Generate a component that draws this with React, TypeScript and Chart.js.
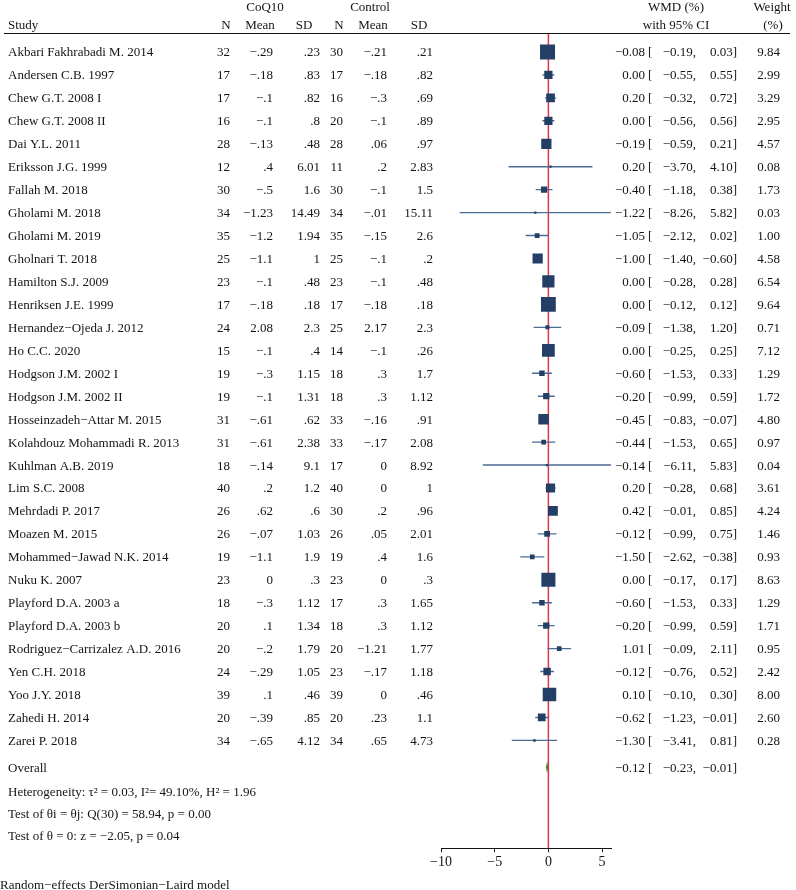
import React, { useEffect, useRef } from "react";
import { Chart, registerables } from "chart.js";
Chart.register(...registerables);

const STUDIES = [
  "Akbari Fakhrabadi M. 2014",
  "Andersen C.B. 1997",
  "Chew G.T. 2008 I",
  "Chew G.T. 2008 II",
  "Dai Y.L. 2011",
  "Eriksson J.G. 1999",
  "Fallah M. 2018",
  "Gholami M. 2018",
  "Gholami M. 2019",
  "Gholnari T. 2018",
  "Hamilton S.J. 2009",
  "Henriksen J.E. 1999",
  "Hernandez\u2212Ojeda J. 2012",
  "Ho C.C. 2020",
  "Hodgson J.M. 2002 I",
  "Hodgson J.M. 2002 II",
  "Hosseinzadeh\u2212Attar M. 2015",
  "Kolahdouz Mohammadi R. 2013",
  "Kuhlman A.B. 2019",
  "Lim S.C. 2008",
  "Mehrdadi P. 2017",
  "Moazen M. 2015",
  "Mohammed\u2212Jawad N.K. 2014",
  "Nuku K. 2007",
  "Playford D.A. 2003 a",
  "Playford D.A. 2003 b",
  "Rodriguez\u2212Carrizalez A.D. 2016",
  "Yen C.H. 2018",
  "Yoo J.Y. 2018",
  "Zahedi H. 2014",
  "Zarei P. 2018",
];
const N_COQ = [32, 17, 17, 16, 28, 12, 30, 34, 35, 25, 23, 17, 24, 15, 19, 19, 31, 31, 18, 40, 26, 26, 19, 23, 18, 20, 20, 24, 39, 20, 34];
const MEAN_COQ = [-0.29, -0.18, -0.1, -0.1, -0.13, 0.4, -0.5, -1.23, -1.2, -1.1, -0.1, -0.18, 2.08, -0.1, -0.3, -0.1, -0.61, -0.61, -0.14, 0.2, 0.62, -0.07, -1.1, 0, -0.3, 0.1, -0.2, -0.29, 0.1, -0.39, -0.65];
const SD_COQ = [0.23, 0.83, 0.82, 0.8, 0.48, 6.01, 1.6, 14.49, 1.94, 1, 0.48, 0.18, 2.3, 0.4, 1.15, 1.31, 0.62, 2.38, 9.1, 1.2, 0.6, 1.03, 1.9, 0.3, 1.12, 1.34, 1.79, 1.05, 0.46, 0.85, 4.12];
const N_CTRL = [30, 17, 16, 20, 28, 11, 30, 34, 35, 25, 23, 17, 25, 14, 18, 18, 33, 33, 17, 40, 30, 26, 19, 23, 17, 18, 20, 23, 39, 20, 34];
const MEAN_CTRL = [-0.21, -0.18, -0.3, -0.1, 0.06, 0.2, -0.1, -0.01, -0.15, -0.1, -0.1, -0.18, 2.17, -0.1, 0.3, 0.3, -0.16, -0.17, 0, 0, 0.2, 0.05, 0.4, 0, 0.3, 0.3, -1.21, -0.17, 0, 0.23, 0.65];
const SD_CTRL = [0.21, 0.82, 0.69, 0.89, 0.97, 2.83, 1.5, 15.11, 2.6, 0.2, 0.48, 0.18, 2.3, 0.26, 1.7, 1.12, 0.91, 2.08, 8.92, 1, 0.96, 2.01, 1.6, 0.3, 1.65, 1.12, 1.77, 1.18, 0.46, 1.1, 4.73];
const WMD = [-0.08, 0.0, 0.2, 0.0, -0.19, 0.2, -0.4, -1.22, -1.05, -1.0, 0.0, 0.0, -0.09, 0.0, -0.6, -0.2, -0.45, -0.44, -0.14, 0.2, 0.42, -0.12, -1.5, 0.0, -0.6, -0.2, 1.01, -0.12, 0.1, -0.62, -1.3];
const CI_LOW = [-0.19, -0.55, -0.32, -0.56, -0.59, -3.7, -1.18, -8.26, -2.12, -1.4, -0.28, -0.12, -1.38, -0.25, -1.53, -0.99, -0.83, -1.53, -6.11, -0.28, -0.01, -0.99, -2.62, -0.17, -1.53, -0.99, -0.09, -0.76, -0.1, -1.23, -3.41];
const CI_HIGH = [0.03, 0.55, 0.72, 0.56, 0.21, 4.1, 0.38, 5.82, 0.02, -0.6, 0.28, 0.12, 1.2, 0.25, 0.33, 0.59, -0.07, 0.65, 5.83, 0.68, 0.85, 0.75, -0.38, 0.17, 0.33, 0.59, 2.11, 0.52, 0.3, -0.01, 0.81];
const WEIGHT = [9.84, 2.99, 3.29, 2.95, 4.57, 0.08, 1.73, 0.03, 1.0, 4.58, 6.54, 9.64, 0.71, 7.12, 1.29, 1.72, 4.8, 0.97, 0.04, 3.61, 4.24, 1.46, 0.93, 8.63, 1.29, 1.71, 0.95, 2.42, 8.0, 2.6, 0.28];

const OVERALL_LABEL = "Overall";
const OVERALL_EST = -0.12;
const OVERALL_LOW = -0.23;
const OVERALL_HIGH = -0.01;

const X_TICKS = [-10, -5, 0, 5];

const FOOT_LINES = [
  "Heterogeneity: \u03c4\u00b2 = 0.03, I\u00b2= 49.10%, H\u00b2 = 1.96",
  "Test of \u03b8i = \u03b8j: Q(30) = 58.94, p = 0.00",
  "Test of \u03b8 = 0: z = \u22122.05, p = 0.04",
];
const MODEL_NOTE = "Random\u2212effects DerSimonian\u2212Laird model";

// layout (pixels) -----------------------------------------------------------
const W = 796;
const H = 890;
const ROW0_PX = 52;
const ROW_STEP = 22.97;
const AREA_TOP = 34;
const AREA_BOTTOM = 849;
const OVERALL_PX = 768;
const FOOT_PX = [791, 813, 835];
const NOTE_PX = 884;

const NAVY = "#233f66";
const CI_COLOR = "#4d6c94";
const RED = "#dc3649";
const OLIVE = "#5b7a32";
const INK = "#141414";
const FONT = '13px "Liberation Serif", "Times New Roman", serif';

const MINUS = "\u2212";
function fmtG(v: number): string {
  if (v === 0) return "0";
  let s = String(Math.abs(v));
  if (s.startsWith("0.")) s = s.slice(1);
  return (v < 0 ? MINUS : "") + s;
}
function fmt2(v: number): string {
  return (v < 0 ? MINUS : "") + Math.abs(v).toFixed(2);
}

const yVal = (px: number) => (px - ROW0_PX) / ROW_STEP;

export default function App() {
  const ref = useRef<HTMLCanvasElement | null>(null);

  useEffect(() => {
    const canvas = ref.current;
    if (!canvas) return;

    const forestPlugin = {
      id: "forest",
      beforeDatasetsDraw(chart: any) {
        const { ctx, chartArea, scales } = chart;
        const x0 = scales.x.getPixelForValue(0);
        ctx.save();
        ctx.strokeStyle = RED;
        ctx.lineWidth = 1.5;
        ctx.beginPath();
        ctx.moveTo(x0, chartArea.top);
        ctx.lineTo(x0, chartArea.bottom);
        ctx.stroke();
        // overall diamond
        const yc = scales.y.getPixelForValue(yVal(OVERALL_PX));
        const xl = scales.x.getPixelForValue(OVERALL_LOW);
        const xe = scales.x.getPixelForValue(OVERALL_EST);
        const xh = scales.x.getPixelForValue(OVERALL_HIGH);
        ctx.fillStyle = OLIVE;
        ctx.beginPath();
        ctx.moveTo(xl, yc);
        ctx.lineTo(xe, yc - 6);
        ctx.lineTo(xh, yc);
        ctx.lineTo(xe, yc + 6);
        ctx.closePath();
        ctx.fill();
        ctx.restore();
      },
      afterDraw(chart: any) {
        const { ctx, scales } = chart;
        ctx.save();
        ctx.font = FONT;
        ctx.fillStyle = INK;
        ctx.textBaseline = "alphabetic";
        const txt = (s: string, x: number, yc: number, align: CanvasTextAlign) => {
          ctx.textAlign = align;
          ctx.fillText(s, x, yc + 4.5);
        };
        // headers
        txt("CoQ10", 265, 6, "center");
        txt("Control", 370, 6, "center");
        txt("WMD (%)", 676, 6, "center");
        txt("Weight", 772, 6, "center");
        txt("Study", 8, 24, "left");
        txt("N", 226, 24, "center");
        txt("Mean", 260, 24, "center");
        txt("SD", 304, 24, "center");
        txt("N", 339, 24, "center");
        txt("Mean", 373, 24, "center");
        txt("SD", 419, 24, "center");
        txt("with 95% CI", 676, 24, "center");
        txt("(%)", 773, 24, "center");
        ctx.strokeStyle = INK;
        ctx.lineWidth = 1;
        ctx.beginPath();
        ctx.moveTo(4, 33.5);
        ctx.lineTo(790, 33.5);
        ctx.stroke();

        const ci = (est: number, lo: number, hi: number, yc: number) => {
          txt(fmt2(est), 645, yc, "right");
          txt("[", 648, yc, "left");
          txt(fmt2(lo) + ",", 696, yc, "right");
          txt(fmt2(hi) + "]", 737, yc, "right");
        };

        STUDIES.forEach((name, i) => {
          const yc = scales.y.getPixelForValue(i);
          txt(name, 8, yc, "left");
          txt(String(N_COQ[i]), 230, yc, "right");
          txt(fmtG(MEAN_COQ[i]), 273, yc, "right");
          txt(fmtG(SD_COQ[i]), 320, yc, "right");
          txt(String(N_CTRL[i]), 343, yc, "right");
          txt(fmtG(MEAN_CTRL[i]), 387, yc, "right");
          txt(fmtG(SD_CTRL[i]), 433, yc, "right");
          ci(WMD[i], CI_LOW[i], CI_HIGH[i], yc);
          txt(WEIGHT[i].toFixed(2), 780, yc, "right");
        });
        const yo = scales.y.getPixelForValue(yVal(OVERALL_PX));
        txt(OVERALL_LABEL, 8, yo, "left");
        ci(OVERALL_EST, OVERALL_LOW, OVERALL_HIGH, yo);
        FOOT_LINES.forEach((s, k) => txt(s, 8, FOOT_PX[k], "left"));
        txt(MODEL_NOTE, 0, NOTE_PX, "left");
        ctx.restore();
      },
    };

    const ciSets = STUDIES.map((_, i) => ({
      type: "line" as const,
      data: [
        { x: CI_LOW[i], y: i },
        { x: CI_HIGH[i], y: i },
      ],
      borderColor: CI_COLOR,
      borderWidth: 1.4,
      pointRadius: 0,
      fill: false,
      order: 2,
    }));

    const chart = new Chart(canvas, {
      type: "scatter",
      data: {
        datasets: [
          {
            data: WMD.map((v, i) => ({ x: v, y: i })),
            pointStyle: "rect",
            pointRadius: (c: any) => Math.max(1.6, 10.6 * Math.sqrt(WEIGHT[c.dataIndex] / 9.84)),
            backgroundColor: NAVY,
            borderColor: NAVY,
            borderWidth: 0,
            order: 0,
          } as any,
          ...ciSets,
        ],
      },
      options: {
        animation: false,
        responsive: false,
        devicePixelRatio: 1,
        layout: { padding: { left: 441, right: W - 611, top: AREA_TOP, bottom: 17 } },
        plugins: { legend: { display: false }, tooltip: { enabled: false } },
        scales: {
          x: {
            type: "linear",
            min: X_TICKS[0],
            max: Math.max(...CI_HIGH),
            afterBuildTicks: (s: any) => {
              s.ticks = X_TICKS.map((v) => ({ value: v }));
            },
            ticks: {
              color: INK,
              padding: 2,
              font: { family: '"Liberation Serif"', size: 14 },
              callback: (v: any) => (Number(v) < 0 ? MINUS + Math.abs(Number(v)) : String(v)),
              maxRotation: 0,
              autoSkip: false,
            },
            grid: { drawOnChartArea: false, drawTicks: true, tickLength: 4, color: INK, lineWidth: 1 },
            border: { display: true, color: INK, width: 1 },
          },
          y: {
            type: "linear",
            display: false,
            reverse: true,
            min: yVal(AREA_TOP),
            max: yVal(AREA_BOTTOM),
          },
        },
      },
      plugins: [forestPlugin],
    } as any);

    return () => chart.destroy();
  }, []);

  return (
    <div style={{ position: "absolute", left: 0, top: 0, width: W, height: H, background: "#fff" }}>
      <canvas ref={ref} width={W} height={H} style={{ display: "block" }} />
    </div>
  );
}
